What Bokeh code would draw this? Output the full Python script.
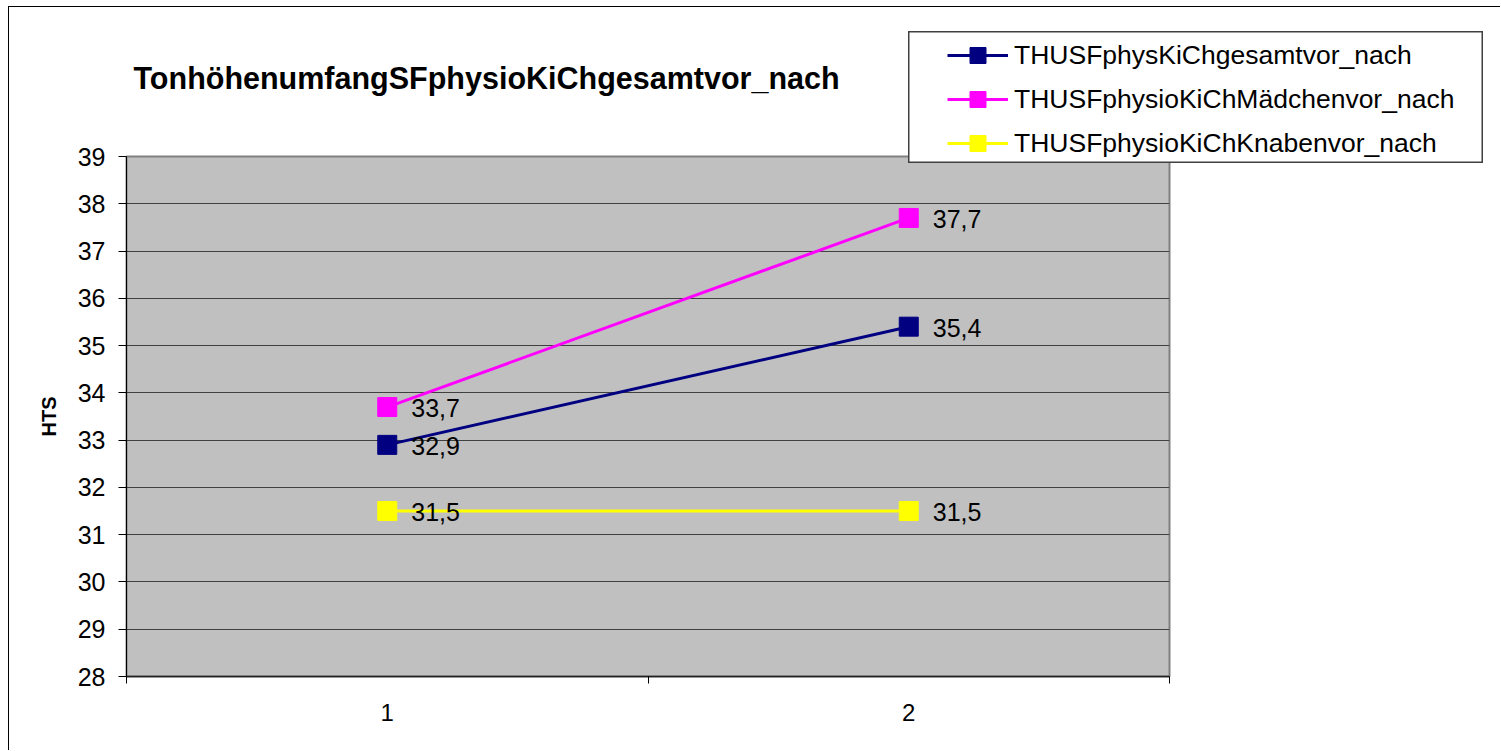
from bokeh.plotting import figure
from bokeh.models import Range1d, FixedTicker, Legend, LegendItem, Title
from bokeh.core.properties import value
from bokeh.embed import file_html
from bokeh.resources import INLINE

# ---- data ----
categories = [1, 2]
gesamt = [32.9, 35.4]
maedchen = [33.7, 37.7]
knaben = [31.5, 31.5]
series_names = ["THUSFphysKiChgesamtvor_nach",
                "THUSFphysioKiChMädchenvor_nach",
                "THUSFphysioKiChKnabenvor_nach"]
series_values = [gesamt, maedchen, knaben]
series_colors = ["#000080", "#FF00FF", "#FFFF00"]
y_ticks = list(range(28, 40))
x_boundaries = [0.5, 1.5, 2.5]
title_text = "TonhöhenumfangSFphysioKiChgesamtvor_nach"
y_label = "HTS"

FONT = "Liberation Sans"

p = figure(width=1492, height=744,
           x_range=Range1d(0.5, 2.5), y_range=Range1d(28, 39),
           output_backend="svg", toolbar_location=None,
           min_border_left=117, min_border_right=332,
           min_border_top=149, min_border_bottom=75)
p.styles = {"border-left": "1px solid #000", "border-top": "1px solid #000",
            "margin-left": "8px", "margin-top": "6px"}

# main title (outermost) + spacer title next to the frame
p.title = Title(text=title_text, align="left", offset=7, standoff=10,
                text_font_size="30.5px", text_font=FONT,
                text_font_style="bold", text_color="#000000")
p.add_layout(Title(text=" ", text_font_size="2px", standoff=53), "above")

p.background_fill_color = "#c0c0c0"
p.border_fill_color = "#ffffff"
p.outline_line_color = "#808080"
p.outline_line_width = 2

# grid
p.xgrid.visible = False
p.ygrid.ticker = FixedTicker(ticks=y_ticks)
p.ygrid.grid_line_color = "#404040"
p.ygrid.grid_line_width = 1

# y axis
p.yaxis.ticker = FixedTicker(ticks=y_ticks)
p.yaxis.axis_label = y_label
p.yaxis.axis_label_text_font = FONT
p.yaxis.axis_label_text_font_style = "bold"
p.yaxis.axis_label_text_font_size = "20px"
p.yaxis.axis_label_text_color = "#000000"
p.yaxis.axis_label_standoff = 15
p.yaxis.major_label_text_font = FONT
p.yaxis.major_label_text_font_size = "25px"
p.yaxis.major_label_text_color = "#000000"
p.yaxis.major_label_standoff = 13
p.yaxis.major_tick_out = 8
p.yaxis.major_tick_in = 0
p.yaxis.minor_tick_line_color = None
p.yaxis.axis_line_color = "#000000"
p.yaxis.major_tick_line_color = "#000000"

# x axis
p.xaxis.ticker = FixedTicker(ticks=categories, minor_ticks=x_boundaries)
p.xaxis.major_tick_line_color = None
p.xaxis.major_tick_out = 0
p.xaxis.major_tick_in = 0
p.xaxis.minor_tick_out = 7
p.xaxis.minor_tick_in = 0
p.xaxis.minor_tick_line_color = "#000000"
p.xaxis.major_label_standoff = 20
p.xaxis.major_label_text_font = FONT
p.xaxis.major_label_text_font_size = "24px"
p.xaxis.major_label_text_color = "#000000"
p.xaxis.axis_line_color = "#202020"
p.xaxis.axis_line_width = 1.5

for name, vals, col in zip(series_names, series_values, series_colors):
    p.line(categories, vals, line_color=col, line_width=3)
    p.scatter(categories, vals, marker="square", size=19,
              fill_color=col, line_color=col)
    labels = [f"{v:.1f}".replace(".", ",") for v in vals]
    p.text(categories, vals, text=labels, x_offset=24, y_offset=1,
           text_baseline="middle", text_align="left",
           text_font=value(FONT), text_font_size="25px", text_color="#000000")

# ---- legend box (separate small figure placed over the chart) ----
# its own ranges lie away from the data, so only the legend shows
lg = figure(width=575, height=132, x_range=Range1d(100, 101), y_range=Range1d(100, 101),
            output_backend="svg", toolbar_location=None,
            x_axis_type=None, y_axis_type=None,
            min_border=0, min_border_left=0, min_border_right=0,
            min_border_top=0, min_border_bottom=0)
lg.xgrid.visible = False
lg.ygrid.visible = False
lg.background_fill_color = "#ffffff"
lg.border_fill_color = "#ffffff"
lg.outline_line_color = "#404040"
lg.outline_line_width = 2
lg.styles = {"position": "absolute", "left": "908px", "top": "31px"}

items = []
for name, vals, col in zip(series_names, series_values, series_colors):
    lr = lg.line(categories, vals, line_color=col, line_width=3)
    sr = lg.scatter(categories, vals, marker="square", size=16,
                    fill_color=col, line_color=col)
    items.append(LegendItem(label=name, renderers=[lr, sr]))

legend = Legend(items=items, location=(39, 0), padding=1, margin=0,
                spacing=4, glyph_width=61, glyph_height=40, label_standoff=6,
                label_text_font=FONT, label_text_font_size="26.5px",
                label_text_color="#000000",
                border_line_color=None, background_fill_alpha=0.0)
lg.add_layout(legend, "center")

open("out.html", "w").write(file_html([p, lg], INLINE))
